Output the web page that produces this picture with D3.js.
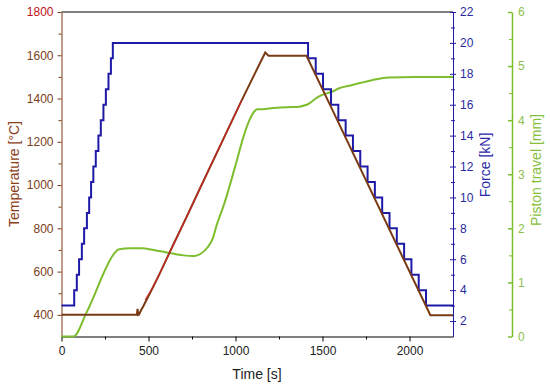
<!DOCTYPE html>
<html>
<head>
<meta charset="utf-8">
<script src="https://cdn.jsdelivr.net/npm/d3@7"></script>
<style>
  body { margin: 0; background: #fff; }
  text { font-family: "Liberation Sans", Arial, sans-serif; }
</style>
</head>
<body>
<svg id="chart" width="550" height="387"></svg>
<script>
// time axis ticks
var timeTicks = [0, 500, 1000, 1500, 2000];

// force steps [s, kN]
var forceTimes = [0, 73, 88, 101, 117, 130, 146, 159, 170, 183, 197, 212, 226, 241, 255, 270, 284, 295,
  1417, 1461, 1503, 1549, 1591, 1633, 1675, 1717, 1759, 1801, 1843, 1885, 1927, 1969, 2011, 2053, 2095, 2250];
var forceValues = [3, 4, 5, 6, 7, 8, 9, 10, 11, 12, 13, 14, 15, 16, 17, 18, 19, 20,
  19, 18, 17, 16, 15, 14, 13, 12, 11, 10, 9, 8, 7, 6, 5, 4, 3, 3];

// measured temperature [s, C]
var tempTimes = [0, 433, 437, 441, 446, 455, 470, 527, 565, 641, 727, 794, 1032, 1171, 1190, 1408, 1528, 2120, 2250];
var tempValues = [400, 400, 428, 400, 402, 418, 440, 530, 592, 722, 866, 982, 1386, 1613, 1598, 1598, 1396, 398, 398];

// red part on the ramp
var redTimes = [480, 527, 565, 641, 727, 794, 1035];
var redValues = [470, 530, 592, 722, 866, 982, 1391];

// piston travel [s, mm]
var pistonTimes = [0, 69, 145, 307, 326, 400, 460, 530, 612, 700, 765, 800, 840, 870, 889, 937, 1009, 1041, 1080,
  1108, 1125, 1147, 1204, 1300, 1366, 1404, 1413, 1461, 1480, 1557, 1595, 1671, 1785, 1881, 2034, 2250];
var pistonValues = [0, 0, 0.45, 1.55, 1.61, 1.63, 1.63, 1.60, 1.55, 1.50, 1.49, 1.53, 1.65, 1.82, 2.03, 2.47, 3.27, 3.64, 4.0,
  4.16, 4.20, 4.20, 4.22, 4.24, 4.25, 4.28, 4.29, 4.40, 4.44, 4.53, 4.59, 4.65, 4.74, 4.79, 4.80, 4.80];

var brown = "#7a3a14";
var blue = "#1f1aa6";
var green = "#7dbd2e";

var svg = d3.select("#chart");

var x = d3.scaleLinear().domain([0, 2250]).range([61.5, 453]);
var yT = d3.scaleLinear().domain([300, 1800]).range([336.5, 12]);
var yF = d3.scaleLinear().domain([1, 22]).range([336.5, 12]);
var yP = d3.scaleLinear().domain([0, 6]).range([336.5, 12]);

var fmt = d3.format("d");

function pairs(a, b) { return a.map(function (d, i) { return [d, b[i]]; }); }

// top frame line
svg.append("line")
  .attr("x1", x(0)).attr("x2", x(2250))
  .attr("y1", 12).attr("y2", 12)
  .style("stroke", "#000").style("stroke-width", 1);

// bottom time axis
var xAxis = svg.append("g").attr("transform", "translate(0,336.5)")
  .call(d3.axisBottom(x).tickValues(timeTicks).tickFormat(fmt).tickSize(5).tickSizeOuter(0).tickPadding(5));
svg.append("g").attr("transform", "translate(0,336.5)")
  .call(d3.axisBottom(x).tickValues(d3.range(250, 2250, 500)).tickSize(3).tickFormat(""))
  .select(".domain").remove();
xAxis.selectAll("text").style("font-size", "12px").style("fill", "#222");
svg.append("text").attr("x", 257).attr("y", 379)
  .attr("text-anchor", "middle").style("font-size", "14px").style("fill", "#222")
  .text("Time [s]");

// left temperature axis
var tAxis = svg.append("g").attr("transform", "translate(61.5,0)")
  .call(d3.axisLeft(yT).tickValues(d3.range(400, 1801, 200)).tickFormat(fmt).tickSize(4).tickSizeOuter(0).tickPadding(4));
var tMinor = svg.append("g").attr("transform", "translate(61.5,0)")
  .call(d3.axisLeft(yT).tickValues(d3.range(500, 1800, 200)).tickSize(3).tickFormat(""));
tMinor.select(".domain").remove();
tMinor.selectAll("line").style("stroke", brown);
tAxis.selectAll("line, path").style("stroke", brown);
tAxis.selectAll("text").style("font-size", "12px")
  .style("fill", function (d) { return d === 1800 ? "#c0101a" : "#7a4020"; });
svg.append("text").attr("transform", "translate(19,174) rotate(-90)")
  .attr("text-anchor", "middle").style("font-size", "14px").style("fill", "#8a3e18")
  .text("Temperature [°C]");

// right force axis
var fAxis = svg.append("g").attr("transform", "translate(453,0)")
  .call(d3.axisRight(yF).tickValues(d3.range(2, 23, 2)).tickSize(3).tickSizeOuter(0).tickPadding(4));
fAxis.selectAll(".tick line").attr("x1", -3);
var fMinor = svg.append("g").attr("transform", "translate(453,0)")
  .call(d3.axisRight(yF).tickValues(d3.range(3, 22, 2)).tickSize(2).tickFormat(""));
fMinor.select(".domain").remove();
fMinor.selectAll("line").attr("x1", -2).style("stroke", blue);
fAxis.selectAll("line, path").style("stroke", blue);
fAxis.selectAll("text").style("font-size", "12px").style("fill", "#2a2aa0");
svg.append("text").attr("transform", "translate(490,165) rotate(-90)")
  .attr("text-anchor", "middle").style("font-size", "14px").style("fill", "#2a2aa8")
  .text("Force [kN]");

// piston travel axis, ticks pointing in
var pAxis = svg.append("g").attr("transform", "translate(512,0)")
  .call(d3.axisRight(yP).tickValues(d3.range(0, 7, 1)).tickFormat(fmt).tickSize(0).tickSizeOuter(0).tickPadding(6));
pAxis.selectAll(".tick line").attr("x1", -4).attr("x2", 0);
var pMinor = svg.append("g").attr("transform", "translate(512,0)")
  .call(d3.axisRight(yP).tickValues(d3.range(0.5, 6, 1)).tickSize(0).tickFormat(""));
pMinor.select(".domain").remove();
pMinor.selectAll("line").attr("x1", -3).attr("x2", 0).style("stroke", green);
pAxis.selectAll("line, path").style("stroke", green).style("stroke-width", 1.5);
pAxis.selectAll("text").style("font-size", "12px").style("fill", "#8fbf50");
svg.append("text").attr("transform", "translate(541,170) rotate(-90)")
  .attr("text-anchor", "middle").style("font-size", "14px").style("fill", "#86c03c")
  .text("Piston travel [mm]");

// data lines
var lineF = d3.line().curve(d3.curveStepAfter)
  .x(function (d) { return x(d[0]); }).y(function (d) { return yF(d[1]); });
var lineT = d3.line()
  .x(function (d) { return x(d[0]); }).y(function (d) { return yT(d[1]); });
var lineP = d3.line().curve(d3.curveMonotoneX)
  .x(function (d) { return x(d[0]); }).y(function (d) { return yP(d[1]); });

svg.append("path").datum(pairs(pistonTimes, pistonValues))
  .attr("d", lineP).style("fill", "none").style("stroke", green).style("stroke-width", 2);

svg.append("path").datum(pairs(forceTimes, forceValues))
  .attr("d", lineF).style("fill", "none").style("stroke", blue).style("stroke-width", 2);

svg.append("path").datum(pairs(tempTimes, tempValues))
  .attr("d", lineT).style("fill", "none").style("stroke", brown).style("stroke-width", 2);

svg.append("path").datum(pairs(redTimes, redValues))
  .attr("d", lineT).style("fill", "none").style("stroke", "#e0202a")
  .style("stroke-width", 1.2).style("opacity", 0.75);
</script>
</body>
</html>
